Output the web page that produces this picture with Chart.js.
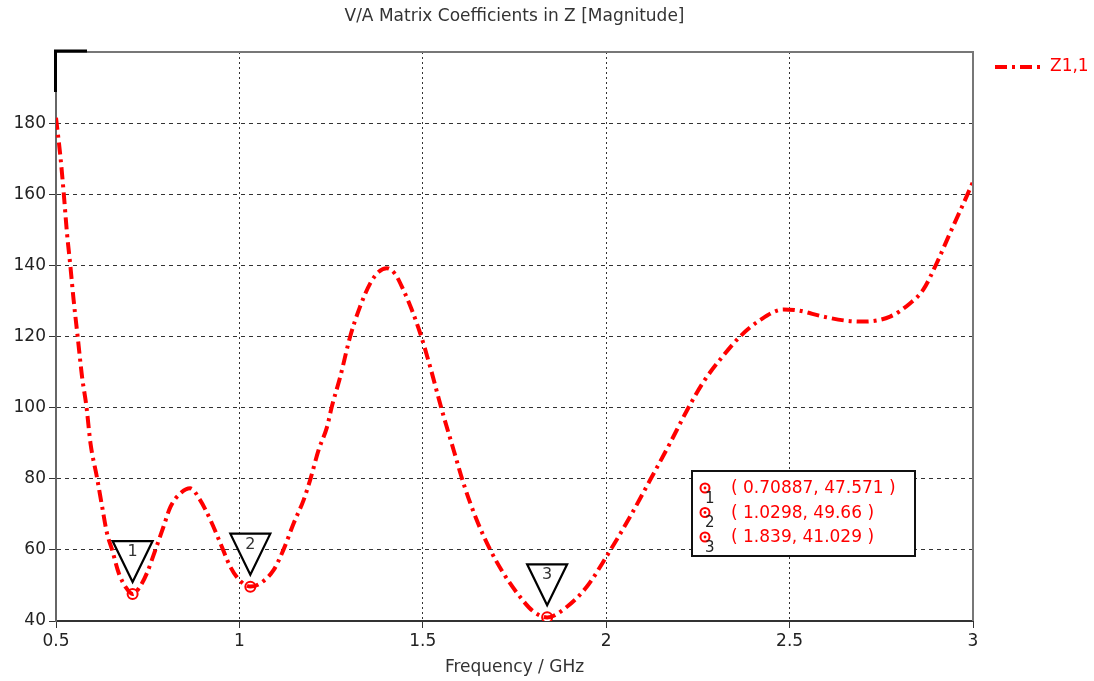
<!DOCTYPE html>
<html><head><meta charset="utf-8">
<script src="https://cdn.jsdelivr.net/npm/chart.js@4/dist/chart.umd.min.js"></script>
<style>html,body{margin:0;padding:0;background:#fff;}</style>
</head><body>
<canvas id="c" width="1094" height="681"></canvas>
<script>
const chartTitle = 'V/A Matrix Coefficients in Z [Magnitude]';
const xTitle = 'Frequency / GHz';
const seriesName = 'Z1,1';
const freq = [0.500,0.512,0.521,0.530,0.539,0.548,0.559,0.571,0.583,0.594,0.612,0.626,0.639,0.653,0.671,0.690,0.709,0.728,0.748,0.771,0.793,0.812,0.839,0.866,0.893,0.921,0.948,0.975,1.000,1.030,1.057,1.093,1.120,1.148,1.175,1.193,1.216,1.239,1.252,1.275,1.302,1.329,1.357,1.380,1.402,1.425,1.447,1.470,1.493,1.520,1.552,1.584,1.611,1.647,1.684,1.720,1.765,1.800,1.839,1.893,1.947,2.000,2.065,2.120,2.174,2.219,2.265,2.319,2.365,2.419,2.483,2.519,2.592,2.650,2.701,2.774,2.828,2.864,2.901,2.937,2.974,3.000];
const zmag = [181.5,170.6,160.4,149,140,130.3,120,108.7,100.3,90,80.2,72,64.7,60,53.5,49.5,47.6,49.5,53.5,60,66.5,72.1,75.9,77.3,74,68.4,61.9,55.3,51.5,49.7,50.6,54.3,60,67.5,74,79.7,88.1,94.6,100.3,108.7,120,128.4,135,138.2,139.2,137.5,133.1,127.5,120.9,111.5,99.3,88.1,78.7,68.4,60,53.4,46.8,42.8,41.0,44,49.6,58,69.3,79.7,90,99.0,107.2,114.6,120,124.6,127.6,127.4,125.6,124.5,124.2,125.6,129.3,133.1,140.6,149,157.4,163.5];
const markerFreq = [0.70887, 1.0298, 1.839];
const markerMag = [47.571, 49.66, 41.029];
const markerLabels = ['1', '2', '3'];
const markerTexts = ['( 0.70887, 47.571 )', '( 1.0298, 49.66 )', '( 1.839, 41.029 )'];
const xTicks = [0.5, 1, 1.5, 2, 2.5, 3];
const yTicks = [40, 60, 80, 100, 120, 140, 160, 180, 200];

const RED = '#ff0000';
const FONT = '"DejaVu Sans", Verdana, sans-serif';
const DASH = [12, 5, 3, 5];

function triPath(ctx, px, py) {
  ctx.beginPath();
  ctx.moveTo(px - 20, py - 53); ctx.lineTo(px + 20, py - 53); ctx.lineTo(px, py - 12); ctx.closePath();
}

const deco = {
  id: 'deco',
  beforeDatasetsDraw(chart) {
    const ctx = chart.ctx, xs = chart.scales.x, ys = chart.scales.y;
    ctx.save();
    ctx.fillStyle = '#fff';
    for (let i = 0; i < markerFreq.length; i++) {
      triPath(ctx, xs.getPixelForValue(markerFreq[i]), ys.getPixelForValue(markerMag[i]));
      ctx.fill();
    }
    ctx.restore();
  },
  afterDatasetsDraw(chart) {
    const ctx = chart.ctx, a = chart.chartArea;
    const xs = chart.scales.x, ys = chart.scales.y;
    ctx.save();
    ctx.setLineDash([]);
    // frame top & right
    ctx.strokeStyle = '#777'; ctx.lineWidth = 2;
    ctx.beginPath(); ctx.moveTo(a.left, a.top); ctx.lineTo(a.right, a.top); ctx.lineTo(a.right, a.bottom); ctx.stroke();
    ctx.strokeStyle = '#000'; ctx.lineWidth = 3;
    ctx.beginPath(); ctx.moveTo(a.left + 31, a.top - 1); ctx.lineTo(a.left - 0.5, a.top - 1); ctx.lineTo(a.left - 0.5, a.top + 40); ctx.stroke();
    // marker triangles
    for (let i = 0; i < markerFreq.length; i++) {
      const px = xs.getPixelForValue(markerFreq[i]);
      const py = ys.getPixelForValue(markerMag[i]);
      ctx.strokeStyle = '#000'; ctx.lineWidth = 2.2;
      triPath(ctx, px, py);
      ctx.stroke();
      ctx.fillStyle = '#333'; ctx.font = '16px ' + FONT; ctx.textAlign = 'center'; ctx.textBaseline = 'middle';
      ctx.fillText(markerLabels[i], px, py - 42);
    }
    // marker value box
    const bx = 692, by = 471, bw = 223, bh = 85;
    ctx.fillStyle = '#fff'; ctx.fillRect(bx, by, bw, bh);
    ctx.strokeStyle = '#111'; ctx.lineWidth = 2; ctx.strokeRect(bx, by, bw, bh);
    for (let i = 0; i < markerTexts.length; i++) {
      const ry = 488 + i * 24.5;
      ctx.strokeStyle = RED; ctx.lineWidth = 2; ctx.fillStyle = '#fff';
      ctx.beginPath(); ctx.arc(705, ry, 4.5, 0, Math.PI * 2); ctx.fill(); ctx.stroke();
      ctx.fillStyle = RED; ctx.beginPath(); ctx.arc(705, ry, 1.4, 0, Math.PI * 2); ctx.fill();
      ctx.fillStyle = '#222'; ctx.font = '15px ' + FONT; ctx.textAlign = 'left'; ctx.textBaseline = 'middle';
      ctx.fillText(markerLabels[i], 705, ry + 11);
      ctx.fillStyle = RED; ctx.font = '17px ' + FONT;
      ctx.fillText(markerTexts[i], 731, ry + 1);
    }
    ctx.restore();
  },
  afterDraw(chart) {
    const ctx = chart.ctx, a = chart.chartArea;
    ctx.save();
    ctx.fillStyle = '#333'; ctx.font = '17px ' + FONT; ctx.textAlign = 'center'; ctx.textBaseline = 'middle';
    ctx.fillText(chartTitle, (a.left + a.right) / 2, 17);
    // legend
    ctx.strokeStyle = RED; ctx.lineWidth = 4; ctx.setLineDash(DASH);
    ctx.beginPath(); ctx.moveTo(995, 67); ctx.lineTo(1041, 67); ctx.stroke();
    ctx.setLineDash([]);
    ctx.fillStyle = RED; ctx.font = '17px ' + FONT; ctx.textAlign = 'left';
    ctx.fillText(seriesName, 1050, 67);
    ctx.restore();
  }
};

new Chart(document.getElementById('c'), {
  type: 'line',
  data: {
    datasets: [
      {
        label: seriesName,
        data: freq.map((f, i) => ({ x: f, y: zmag[i] })),
        borderColor: RED, borderWidth: 4, borderDash: DASH,
        pointRadius: 0, cubicInterpolationMode: 'monotone', fill: false
      },
      {
        label: 'markers',
        data: markerFreq.map((f, i) => ({ x: f, y: markerMag[i] })),
        showLine: false, pointStyle: 'circle', pointRadius: 5,
        pointBorderColor: RED, pointBackgroundColor: '#fff', pointBorderWidth: 2
      },
      {
        label: 'markerDots',
        data: markerFreq.map((f, i) => ({ x: f, y: markerMag[i] })),
        showLine: false, pointStyle: 'circle', pointRadius: 1.5,
        pointBorderColor: RED, pointBackgroundColor: RED, pointBorderWidth: 0
      }
    ]
  },
  options: {
    responsive: false, animation: false, devicePixelRatio: 1,
    layout: { padding: { top: 52, right: 121, left: 0, bottom: 0 } },
    plugins: { legend: { display: false }, tooltip: { enabled: false }, title: { display: false } },
    scales: {
      x: {
        type: 'linear', min: 0.5, max: 3,
        afterBuildTicks: s => { s.ticks = xTicks.map(v => ({ value: v })); },
        afterFit: s => { s.height = 60; },
        ticks: { font: { size: 17, family: FONT }, color: '#222', padding: 3, maxRotation: 0, callback: v => String(v) },
        title: { display: true, text: xTitle, font: { size: 17, family: FONT }, color: '#333', padding: { top: 0, bottom: 3 } },
        grid: { color: '#333', tickBorderDash: [], tickLength: 7, tickColor: '#333', lineWidth: 1 },
        border: { color: '#333', width: 2, dash: [2, 3] }
      },
      y: {
        min: 40, max: 200,
        afterBuildTicks: s => { s.ticks = yTicks.map(v => ({ value: v })); },
        afterFit: s => { s.width = 56; },
        ticks: { font: { size: 17, family: FONT }, color: '#222', padding: 3, callback: v => (v === 200 ? '' : String(v)) },
        grid: { color: '#333', tickBorderDash: [], tickLength: 7, tickColor: c => (c.tick && c.tick.value === 200 ? 'rgba(0,0,0,0)' : '#333'), lineWidth: 1 },
        border: { color: '#666', width: 2, dash: [4, 4] }
      }
    }
  },
  plugins: [deco]
});
</script>
</body></html>
